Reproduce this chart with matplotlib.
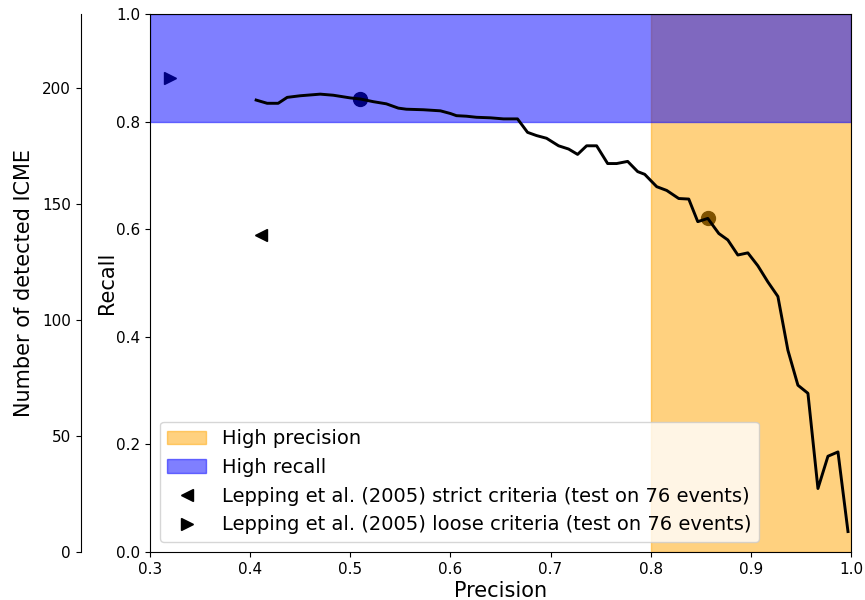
import matplotlib
matplotlib.use("Agg")
from matplotlib import pyplot as plt
import numpy as np

# precision / recall curve
precision = [0.406, 0.417, 0.428, 0.437, 0.450, 0.470, 0.483, 0.500, 0.510, 0.523,
             0.536, 0.548, 0.556, 0.573, 0.590, 0.600, 0.606, 0.616, 0.626, 0.640,
             0.653, 0.667, 0.677, 0.686, 0.696, 0.708, 0.718, 0.727, 0.736, 0.746,
             0.757, 0.766, 0.777, 0.787, 0.794, 0.806, 0.816, 0.828, 0.838, 0.847,
             0.857, 0.868, 0.877, 0.887, 0.897, 0.907, 0.917, 0.927, 0.937, 0.947,
             0.957, 0.967, 0.977, 0.987, 0.997]
recall = [0.840, 0.834, 0.834, 0.845, 0.848, 0.851, 0.849, 0.844, 0.842, 0.837,
          0.833, 0.825, 0.823, 0.822, 0.820, 0.815, 0.811, 0.810, 0.808, 0.807,
          0.805, 0.805, 0.780, 0.774, 0.769, 0.755, 0.749, 0.739, 0.755, 0.755,
          0.722, 0.722, 0.726, 0.707, 0.702, 0.679, 0.672, 0.657, 0.656, 0.614,
          0.620, 0.592, 0.580, 0.552, 0.556, 0.532, 0.502, 0.475, 0.375, 0.310,
          0.295, 0.118, 0.178, 0.186, 0.038]

# chosen operating points
chosen_precision = [0.510, 0.857]
chosen_recall = [0.842, 0.621]

# Lepping et al. (2005)
strict_pr = (0.411, 0.590)
loose_pr = (0.320, 0.881)

n_events_max = 232
threshold = 0.8

fig = plt.figure(figsize=(8.65, 6.0), dpi=100)
ax = fig.add_axes([0.1734, 0.08, 0.8104, 0.8967])

span_p = ax.axvspan(threshold, 1.0, color="orange", alpha=0.5,
                    label="High precision", zorder=2)
span_r = ax.axhspan(threshold, 1.0, color="blue", alpha=0.5,
                    label="High recall", zorder=2)
strict, = ax.plot(*strict_pr, "<", color="k", markersize=8, zorder=1,
                  label="Lepping et al. (2005) strict criteria (test on 76 events)")
loose, = ax.plot(*loose_pr, ">", color="k", markersize=8, zorder=1,
                 label="Lepping et al. (2005) loose criteria (test on 76 events)")
ax.plot(chosen_precision, chosen_recall, "o", color="k", markersize=10, zorder=1)
ax.plot(precision, recall, color="k", linewidth=2.1, zorder=3)

ax.set_xlim(0.3, 1.0)
ax.set_ylim(0.0, 1.0)
ax.set_xlabel("Precision", fontsize=15, labelpad=3)
ax.set_ylabel("Recall", fontsize=15, labelpad=-1)
ax.tick_params(labelsize=11)

ax.legend(handles=[span_p, span_r, strict, loose], loc="lower left",
          fontsize=14, numpoints=1)

ax2 = ax.twinx()
ax2.set_ylim(0, n_events_max)
ax2.set_yticks([0, 50, 100, 150, 200])
ax2.spines["left"].set_position(("outward", 50))
ax2.spines["left"].set_visible(True)
ax2.spines["right"].set_visible(False)
ax2.spines["top"].set_visible(False)
ax2.spines["bottom"].set_visible(False)
ax2.yaxis.set_ticks_position("left")
ax2.yaxis.set_label_position("left")
ax2.set_ylabel("Number of detected ICME", fontsize=15, labelpad=6)
ax2.tick_params(labelsize=11)

plt.savefig("out.png", dpi=100)
